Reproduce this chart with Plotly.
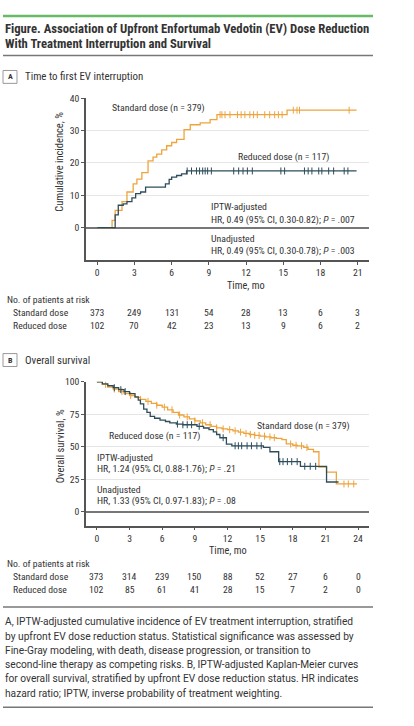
import plotly.graph_objects as go

# Panel A: time to first EV interruption, cumulative incidence (%)
a_std_t = [0, 1.2, 1.45, 2.0, 2.4, 2.9, 3.2, 3.6, 4.1, 4.5, 4.8, 5.2, 5.6, 6.0, 6.4, 7.0, 7.5, 8.3, 9.1, 9.65, 15.3, 20.9]
a_std_y = [0, 2.2, 5.3, 8.0, 11.0, 13.5, 15.0, 17.0, 20.6, 21.8, 22.7, 24.0, 25.3, 26.3, 27.3, 30.3, 31.8, 32.4, 33.4, 34.9, 36.3, 36.3]
a_red_t = [0, 1.45, 1.7, 2.1, 2.4, 2.8, 3.1, 3.5, 3.9, 5.5, 5.8, 6.0, 6.4, 6.8, 7.2, 20.9]
a_red_y = [0, 3.9, 6.9, 7.3, 8.0, 9.2, 10.5, 11.0, 12.5, 13.5, 14.9, 15.6, 16.1, 16.6, 17.5, 17.5]
a_std_cens = [9.9, 10.05, 10.3, 10.7, 11.3, 11.6, 11.9, 12.3, 12.6, 12.9, 13.5, 13.9, 14.3, 14.6, 14.9, 15.8, 16.1, 16.3, 20.3]
a_red_cens = [7.25, 7.6, 8.0, 8.25, 8.5, 8.7, 8.9, 9.2, 11.0, 11.4, 11.75, 12.1, 12.5, 14.8, 15.1, 16.7, 17.0, 17.3, 17.85, 18.1, 18.65, 19.05, 19.9, 20.2]
a_ticks = [0, 3, 6, 9, 12, 15, 18, 21]
a_risk_std = [373, 249, 131, 54, 28, 13, 6, 3]
a_risk_red = [102, 70, 42, 23, 13, 9, 6, 2]

# Panel B: overall survival (%)
b_std_t = [0, 0.5, 1.0, 1.5, 2.0, 2.5, 3.0, 3.5, 4.0, 4.5, 5.0, 5.5, 6.0, 6.5, 7.0, 7.5, 8.0, 8.5, 9.0, 9.5,
           10.0, 10.5, 11.0, 11.5, 12.0, 12.5, 13.0, 13.5, 14.0, 14.5, 15.0, 15.5, 16.0, 16.5, 17.0, 17.4,
           18.0, 18.4, 19.0, 19.4, 19.9, 20.4, 21.1, 22.0, 23.9]
b_std_y = [100, 98, 96, 94.5, 92.5, 91, 89.5, 88, 86.5, 85, 83.5, 82, 80.5, 78.5, 76.5, 74.5, 73, 71.5, 70, 68.5,
           67, 65.8, 64.6, 63.8, 63.2, 62.3, 61.3, 60.3, 59.5, 58.8, 58.2, 57.6, 57, 56.5, 55.6, 52.2,
           51.2, 50.8, 49.5, 48, 46.2, 34.3, 30.5, 21.4, 21.4]
b_red_t = [0, 0.5, 1.0, 1.5, 2.0, 2.5, 3.0, 3.5, 3.8, 4.0, 4.3, 4.6, 4.9, 5.3, 5.8, 6.3, 6.7, 7.3, 7.9,
           9.2, 9.8, 10.3, 10.7, 11.0, 11.3, 11.9, 12.4, 15.3, 15.9, 16.7, 18.7, 21.1, 22.2]
b_red_y = [100, 98.5, 97, 95.5, 94, 92.5, 91, 88.5, 86, 83, 79, 76.5, 73.5, 72, 70.5, 69.5, 68.5, 67.5, 67,
           65.8, 64.5, 63.2, 61.5, 59.5, 57, 52, 50.8, 49.5, 46.2, 38.6, 35.0, 22.9, 22.9]
b_std_cens = [0.8, 1.6, 2.3, 3.1, 4.0, 4.7, 5.5, 6.2, 6.9, 7.6, 8.3, 9.0, 9.7, 10.4, 11.0, 11.6, 12.2, 12.7,
              13.2, 13.7, 14.1, 14.5, 14.9, 15.4, 15.9, 16.3, 17.8, 18.3, 18.8, 19.3, 22.7, 23.1, 23.6]
b_red_cens = [1.6, 2.2, 2.6, 7.4, 7.9, 8.3, 8.7, 9.4, 11.6, 12.7, 13.0, 13.3, 13.8, 14.2, 14.7, 15.1,
              16.8, 17.1, 17.5, 17.9, 18.4, 19.1, 19.6, 20.1]
b_ticks = [0, 3, 6, 9, 12, 15, 18, 21, 24]
b_risk_std = [373, 314, 239, 150, 88, 52, 27, 6, 0]
b_risk_red = [102, 85, 61, 41, 28, 15, 7, 2, 0]

caption = [
    "A, IPTW-adjusted cumulative incidence of EV treatment interruption, stratified",
    "by upfront EV dose reduction status. Statistical significance was assessed by",
    "Fine-Gray modeling, with death, disease progression, or transition to",
    "second-line therapy as competing risks. B, IPTW-adjusted Kaplan-Meier curves",
    "for overall survival, stratified by upfront EV dose reduction status. HR indicates",
    "hazard ratio; IPTW, inverse probability of treatment weighting.",
]

ORANGE = "#eea43c"
DARK = "#2d4d5a"
TXT = "#333333"
FONT = "Liberation Sans Narrow, Arial Narrow, Roboto Condensed, sans-serif"
CAPFONT = "Roboto, sans-serif"
W, H = 414, 726


def px(x):
    return x / W


def py(y):
    return 1 - y / H


def step_at(ts, ys, t):
    val = ys[0]
    for tt, yy in zip(ts, ys):
        if tt <= t:
            val = yy
    return val


fig = go.Figure()

for ts, ys, cens, col, xa, ya in [
    (a_std_t, a_std_y, a_std_cens, ORANGE, "x", "y"),
    (a_red_t, a_red_y, a_red_cens, DARK, "x", "y"),
    (b_std_t, b_std_y, b_std_cens, ORANGE, "x2", "y2"),
    (b_red_t, b_red_y, b_red_cens, DARK, "x2", "y2"),
]:
    fig.add_trace(go.Scatter(x=ts, y=ys, mode="lines", line=dict(color=col, width=1.3, shape="hv"),
                             xaxis=xa, yaxis=ya, hoverinfo="skip", showlegend=False))
    fig.add_trace(go.Scatter(x=cens, y=[step_at(ts, ys, c) for c in cens], mode="markers",
                             marker=dict(symbol="line-ns", size=5, line=dict(color=col, width=1)),
                             xaxis=xa, yaxis=ya, hoverinfo="skip", showlegend=False))

ann = []


def text(s, x, y, size=9.8, anchor="left", color=TXT, family=FONT, **kw):
    ann.append(dict(text=s, x=px(x), y=py(y), xref="paper", yref="paper", xanchor=anchor,
                    yanchor="middle", showarrow=False, font=dict(size=size, color=color, family=family), **kw))


# heading
text("<b>Figure. Association of Upfront Enfortumab Vedotin (EV) Dose Reduction</b>", 3, 23, size=12.7)
text("<b>With Treatment Interruption and Survival</b>", 3, 38, size=12.7)
text("<b>A</b>", 10, 71.5, size=8, anchor="center")
text("Time to first EV interruption", 23, 71.5, size=10.9)
text("<b>B</b>", 10, 357, size=8, anchor="center")
text("Overall survival", 23, 357, size=10.9)

# panel A labels
text("Standard dose (n = 379)", 110, 103)
text("Reduced dose (n = 117)", 236, 152)
text("IPTW-adjusted", 209, 202)
text("HR, 0.49 (95% CI, 0.30-0.82); <i>P</i> = .007", 209, 216)
text("Unadjusted", 209, 234)
text("HR, 0.49 (95% CI, 0.30-0.78); <i>P</i> = .003", 209, 247)
text("Time, mo", 246, 282, size=10.3, anchor="center")
text("Cumulative incidence, %", 60, 157, size=10.5, anchor="center", textangle=-90)

# panel B labels
text("Standard dose (n = 379)", 255, 424)
text("Reduced dose (n = 117)", 107, 434)
text("IPTW-adjusted", 95, 455)
text("HR, 1.24 (95% CI, 0.88-1.76); <i>P</i> = .21", 95, 467)
text("Unadjusted", 95, 488)
text("HR, 1.33 (95% CI, 0.97-1.83); <i>P</i> = .08", 95, 499)
text("Time, mo", 228, 549, size=10.3, anchor="center")
text("Overall survival, %", 60, 444, size=10.5, anchor="center", textangle=-90)

# risk tables
for head_y, xa, ticks, std, red in [(296, "x", a_ticks, a_risk_std, a_risk_red),
                                     (562, "x2", b_ticks, b_risk_std, b_risk_red)]:
    text("No. of patients at risk", 5, head_y, size=9.7)
    text("Standard dose", 11, head_y + 13, size=9.7)
    text("Reduced dose", 11, head_y + 26, size=9.7)
    for t, s, r in zip(ticks, std, red):
        for val, yy in [(s, head_y + 13), (r, head_y + 26)]:
            ann.append(dict(text=str(val), x=t, xref=xa, y=py(yy), yref="paper", xanchor="center",
                            yanchor="middle", showarrow=False, font=dict(size=9.7, color=TXT, family=FONT)))

for i, line in enumerate(caption):
    text(line, 3, 621 + i * 14.4, size=10.2, family=CAPFONT)

shapes = [
    dict(type="line", xref="paper", yref="paper", x0=px(3), x1=px(373), y0=py(10), y1=py(10),
         line=dict(color="#66bb66", width=2.5)),
    dict(type="line", xref="paper", yref="paper", x0=px(3), x1=px(373), y0=py(50), y1=py(50),
         line=dict(color="#777777", width=1.5)),
    dict(type="line", xref="paper", yref="paper", x0=px(3), x1=px(373), y0=py(606), y1=py(606),
         line=dict(color="#777777", width=1.5)),
    dict(type="line", xref="paper", yref="paper", x0=px(3), x1=px(373), y0=py(707), y1=py(707),
         line=dict(color="#777777", width=1.5)),
    dict(type="rect", xref="paper", yref="paper", x0=px(3), x1=px(17), y0=py(78), y1=py(65),
         line=dict(color="#999999", width=1)),
    dict(type="rect", xref="paper", yref="paper", x0=px(3), x1=px(17), y0=py(363.5), y1=py(350.5),
         line=dict(color="#999999", width=1)),
]

axis_common = dict(showline=True, linecolor="#555555", linewidth=1.5, ticks="outside", ticklen=3,
                   tickcolor="#555555", tickfont=dict(size=9.7, color=TXT, family=FONT), fixedrange=True)

fig.update_layout(
    width=W, height=H, autosize=False,
    margin=dict(l=0, r=0, t=0, b=0),
    paper_bgcolor="white", plot_bgcolor="white",
    font=dict(family=FONT, color=TXT),
    annotations=ann, shapes=shapes,
    xaxis=dict(domain=[px(86), px(369)], range=[-0.9, 21.9], tickvals=a_ticks, showgrid=False,
               zeroline=False, anchor="y", **axis_common),
    yaxis=dict(domain=[py(256), py(93)], range=[-10, 40], tickvals=[0, 10, 20, 30, 40],
               showgrid=True, gridcolor="#e6e6e6", gridwidth=1, zeroline=True, zerolinecolor="#777777",
               zerolinewidth=1.5, anchor="x", **axis_common),
    xaxis2=dict(domain=[px(86), px(369)], range=[-1, 25], tickvals=b_ticks, showgrid=False,
                zeroline=False, anchor="y2", **axis_common),
    yaxis2=dict(domain=[py(524), py(379)], range=[-10.7, 100], tickvals=[0, 25, 50, 75, 100],
                showgrid=True, gridcolor="#e6e6e6", gridwidth=1, zeroline=True, zerolinecolor="#777777",
                zerolinewidth=1.5, anchor="x2", **axis_common),
)

fig.write_html("out.html", config={"displayModeBar": False},
               post_script="document.body.style.margin='0px';")
